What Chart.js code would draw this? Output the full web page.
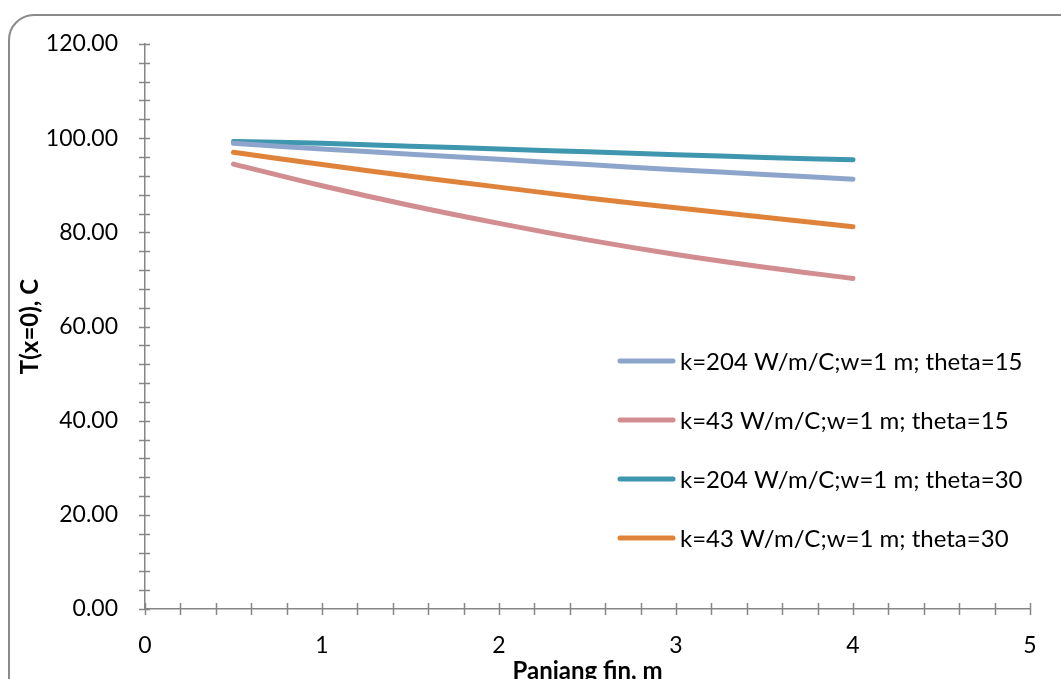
<!DOCTYPE html>
<html>
<head>
<meta charset="utf-8">
<script src="https://cdn.jsdelivr.net/npm/chart.js@4.4.1/dist/chart.umd.min.js"></script>
<style>
    html, body { margin: 0; padding: 0; background: #fff; overflow: hidden; }
    #wrap { position: relative; width: 1061px; height: 679px; overflow: hidden; }
    #frame {
        position: absolute; left: 8px; top: 14px; width: 1120px; height: 720px;
        border: 2px solid #8a8a8a; border-radius: 26px; pointer-events: none;
    }
    canvas { position: absolute; left: 0; top: 0; }
</style>
</head>
<body>
<div id="wrap">
    <canvas id="finChart" width="1061" height="710"></canvas>
    <div id="frame"></div>
</div>
<script>
// fin length (m)
var panjang = [0.5, 1, 1.5, 2, 2.5, 3, 3.5, 4];

// T(x=0) in C for each case
var k204theta15 = [98.9, 97.7, 96.6, 95.5, 94.4, 93.3, 92.3, 91.3];
var k43theta15  = [94.5, 89.9, 85.7, 81.9, 78.4, 75.3, 72.6, 70.2];
var k204theta30 = [99.3, 98.9, 98.3, 97.7, 97.1, 96.5, 95.9, 95.4];
var k43theta30  = [97.0, 94.4, 91.9, 89.6, 87.3, 85.2, 83.2, 81.2];

var seriesLabels = [
    'k=204 W/m/C;w=1 m; theta=15',
    'k=43 W/m/C;w=1 m; theta=15',
    'k=204 W/m/C;w=1 m; theta=30',
    'k=43 W/m/C;w=1 m; theta=30'
];
var seriesColors = ['#8ea5cb', '#d18d8f', '#3e97ae', '#e0833a'];

var axisColor = '#868686';
var fontName = 'Lato, "Open Sans", sans-serif';

function toPoints(ys) {
    return ys.map(function(y, i) { return {x: panjang[i], y: y}; });
}

var allSeries = [k204theta15, k43theta15, k204theta30, k43theta30];
var datasets = allSeries.map(function(ys, i) {
    return {
        label: seriesLabels[i],
        data: toPoints(ys),
        showLine: true,
        borderColor: seriesColors[i],
        backgroundColor: seriesColors[i],
        borderWidth: 5,
        borderCapStyle: 'round',
        pointRadius: 0,
        tension: 0.4
    };
});

// Excel style tick marks that cross the axis line
var crossTicks = {
    id: 'crossTicks',
    afterDraw: function(chart) {
        var ctx = chart.ctx, a = chart.chartArea;
        var xs = chart.scales.x, ys = chart.scales.y;
        ctx.save();
        ctx.strokeStyle = axisColor;
        ctx.lineWidth = 1.5;
        ctx.beginPath();
        for (var v = 0; v <= 120; v += 4) {
            var py = Math.round(ys.getPixelForValue(v)) + 0.5;
            ctx.moveTo(a.left - 6, py);
            ctx.lineTo(a.left + 5, py);
        }
        for (var i = 0; i <= 25; i++) {
            var px = Math.round(xs.getPixelForValue(i * 0.2)) + 0.5;
            ctx.moveTo(px, a.bottom - 6);
            ctx.lineTo(px, a.bottom + 6);
        }
        ctx.stroke();
        ctx.restore();
    }
};

// legend inside the plot area, like the original
var insideLegend = {
    id: 'insideLegend',
    afterDraw: function(chart) {
        var ctx = chart.ctx, a = chart.chartArea;
        var x0 = a.left + 475, y0 = a.top + 317, gap = 59;
        ctx.save();
        ctx.font = '24px ' + fontName;
        ctx.textBaseline = 'middle';
        ctx.fillStyle = '#000';
        chart.data.datasets.forEach(function(ds, i) {
            var y = y0 + i * gap;
            ctx.strokeStyle = ds.borderColor;
            ctx.lineWidth = 5;
            ctx.lineCap = 'round';
            ctx.beginPath();
            ctx.moveTo(x0, y);
            ctx.lineTo(x0 + 53, y);
            ctx.stroke();
            ctx.fillText(ds.label, x0 + 60, y + 1);
        });
        ctx.restore();
    }
};

var chart = new Chart(document.getElementById('finChart').getContext('2d'), {
    type: 'scatter',
    data: { datasets: datasets },
    options: {
        responsive: false,
        animation: false,
        layout: { padding: { top: 44, right: 31, left: 0, bottom: 0 } },
        plugins: {
            legend: { display: false },
            tooltip: { enabled: false }
        },
        scales: {
            x: {
                type: 'linear',
                min: 0, max: 5,
                afterFit: function(s) { s.height = 101; },
                grid: { display: false, drawTicks: false },
                border: { display: true, color: axisColor, width: 1.5 },
                ticks: {
                    stepSize: 1,
                    padding: 23,
                    color: '#000',
                    font: { family: fontName, size: 23 },
                    callback: function(v) { return v; }
                },
                title: {
                    display: true,
                    text: 'Panjang fin, m',
                    color: '#000',
                    font: { family: fontName, size: 24, weight: 'bold' },
                    padding: { top: 0, bottom: 24 }
                }
            },
            y: {
                min: 0, max: 120,
                afterFit: function(s) { s.width = 145; },
                grid: { display: false, drawTicks: false },
                border: { display: true, color: axisColor, width: 1.5 },
                ticks: {
                    stepSize: 20,
                    padding: 27,
                    color: '#000',
                    font: { family: fontName, size: 23 },
                    callback: function(v) { return v.toFixed(2); }
                },
                title: {
                    display: true,
                    text: 'T(x=0), C',
                    color: '#000',
                    font: { family: fontName, size: 24, weight: 'bold' },
                    padding: { top: 16, bottom: 0 }
                }
            }
        }
    },
    plugins: [crossTicks, insideLegend]
});
</script>
</body>
</html>
